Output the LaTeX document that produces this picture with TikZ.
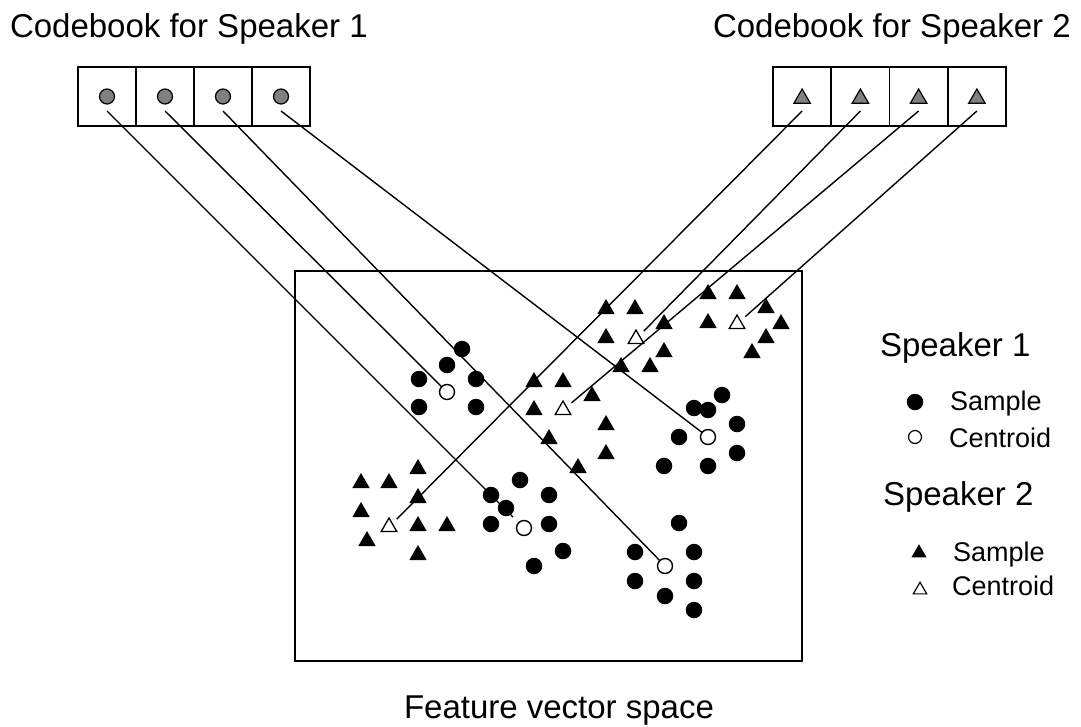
\documentclass[tikz,border=0pt]{standalone}
\usepackage{fontspec}
\setmainfont{Liberation Sans}
\usetikzlibrary{shapes.geometric,backgrounds}

\begin{document}
\begin{tikzpicture}[x=1pt,y=-1pt,
  every node/.style={inner sep=0pt, outer sep=0pt},
  cell/.style={draw, line width=1.6pt, minimum width=58.1pt, minimum height=59pt},
  cbdot/.style={circle, draw, line width=1.2pt, fill=black!50, minimum size=15pt},
  cbtri/.style={regular polygon, regular polygon sides=3, draw, line width=1.2pt, fill=black!50, minimum size=19pt, yshift=-2pt},
  dot/.style={circle, fill=black, minimum size=16.5pt},
  cdot/.style={circle, draw, line width=1.4pt, fill=white, minimum size=15pt},
  tri/.style={regular polygon, regular polygon sides=3, fill=black, minimum size=20pt, yshift=-2pt},
  ctri/.style={regular polygon, regular polygon sides=3, draw, line width=1.3pt, fill=white, minimum size=18pt, yshift=-2pt},
  link/.style={line width=1.4pt},
  big/.style={anchor=base west, font=\fontsize{33}{40}\selectfont},
  small/.style={anchor=base west, font=\fontsize{27}{32}\selectfont},
]
\useasboundingbox (0,0) rectangle (1081,726);

% titles
\node[big] (title1) at (10,37) {Codebook for Speaker 1};
\node[big] (title2) at (713,37) {Codebook for Speaker 2};
\node[big] (caption) at (404,718) {Feature vector space};

% codebook for speaker 1
\foreach \x [count=\i] in {107,165,223,281} {
  \node[cell] (a\i) at (\x,96.5) {};
  \node[cbdot] (p\i) at (\x,96.5) {};
}
% codebook for speaker 2
\foreach \x [count=\i] in {802.1,860.4,918.6,976.9} {
  \node[cell] (b\i) at (\x,96.5) {};
  \node[cbtri] (q\i) at (\x,96.5) {};
}

% feature vector space
\node[draw, line width=2pt, minimum width=507pt, minimum height=390pt] (space) at (548.5,466) {};

% speaker 1 samples
\foreach \x/\y [count=\i] in {462/349,447/365,419/379,476/379,419/407,476/407,
    722/395,694/408,708/410,737/424,679/437,737/453,664/466,708/466,
    520/480,491/495,549/495,506/508,491/524,549/524,563/551,534/566,
    679/523,635/552,694/552,635/581,694/581,665/596,694/610}
  \node[dot] (s\i) at (\x,\y) {};

% speaker 2 samples
\foreach \x/\y [count=\i] in {606/307,635/307,664/322,606/336,664/350,621/365,650/365,
    708/292,737/292,766/306,708/321,781/322,766/336,752/351,
    534/380,563/380,592/394,534/408,606/423,549/437,606/452,578/466,
    418/467,361/481,389/481,418/496,361/510,418/524,447/524,367/539,418/553}
  \node[tri] (t\i) at (\x,\y) {};

% centroids
\node[cdot] (ka) at (447,392) {};
\node[cdot] (kb) at (708,437) {};
\node[cdot] (kc) at (524,528) {};
\node[cdot] (kd) at (665,566) {};
\node[ctri] (ke) at (636,337) {};
\node[ctri] (kf) at (737,322) {};
\node[ctri] (kg) at (563,408) {};
\node[ctri] (kh) at (389,525) {};

% codebook entries linked to their centroids
\begin{scope}[on background layer]
  \draw[link, shorten >=8pt] ([yshift=-14.5pt]p1.center) -- (kc);
  \draw[link] ([yshift=-14.5pt]p2.center) -- (ka);
  \draw[link] ([yshift=-14.5pt]p3.center) -- (kd);
  \draw[link] ([yshift=-14.5pt]p4.center) -- (kb);
  \draw[link, shorten >=11pt] ([yshift=-12.5pt]q1.center) -- (kh.center);
  \draw[link, shorten >=11pt] ([yshift=-12.5pt]q2.center) -- (ke.center);
  \draw[link, shorten >=11pt] ([yshift=-12.5pt]q3.center) -- (kg.center);
  \draw[link, shorten >=11pt] ([yshift=-12.5pt]q4.center) -- (kf.center);
\end{scope}

% legend
\node[big] (leg1) at (880,356) {Speaker 1};
\node[dot] (l1a) at (915,402) {};
\node[small] (l1b) at (950,410) {Sample};
\node[cdot, minimum size=13pt, line width=1.2pt] (l1c) at (915,437) {};
\node[small] (l1d) at (949,447) {Centroid};
\node[big] (leg2) at (883,505) {Speaker 2};
\node[tri, minimum size=17.5pt] (l2a) at (919,551) {};
\node[small] (l2b) at (953,561) {Sample};
\node[ctri, minimum size=15.5pt, line width=1.2pt] (l2c) at (920,588) {};
\node[small] (l2d) at (952,595) {Centroid};
\end{tikzpicture}
\end{document}
